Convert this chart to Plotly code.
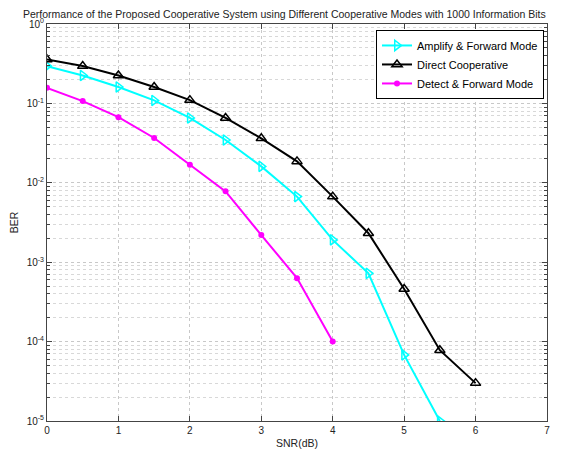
import plotly.graph_objects as go

snr_direct = [0, 0.5, 1, 1.5, 2, 2.5, 3, 3.5, 4, 4.5, 5, 5.5, 6]
ber_direct = [0.358, 0.295, 0.225, 0.161, 0.11, 0.0656, 0.0363, 0.0186, 0.0067, 0.00232, 4.6e-4, 7.8e-5, 3.0e-5]

snr_af = [0, 0.5, 1, 1.5, 2, 2.5, 3, 3.5, 4, 4.5, 5, 5.5]
ber_af = [0.295, 0.225, 0.161, 0.109, 0.0656, 0.0346, 0.0161, 0.0067, 0.00191, 7.24e-4, 6.8e-5, 1.0e-5]

snr_df = [0, 0.5, 1, 1.5, 2, 2.5, 3, 3.5, 4]
ber_df = [0.157, 0.107, 0.067, 0.0367, 0.0169, 0.0078, 0.0022, 6.3e-4, 1.0e-4]

x_ticks = [0, 1, 2, 3, 4, 5, 6, 7]
y_exps = [-5, -4, -3, -2, -1, 0]

FONT = "Liberation Sans, Arial, sans-serif"

fig = go.Figure()
fig.add_trace(go.Scatter(x=snr_af, y=ber_af, mode="lines+markers", name="Amplify & Forward Mode",
                         line=dict(color="#00FFFF", width=2),
                         marker=dict(symbol="triangle-right-open", size=9, color="#00FFFF", line=dict(width=1.5))))
fig.add_trace(go.Scatter(x=snr_direct, y=ber_direct, mode="lines+markers", name="Direct Cooperative",
                         line=dict(color="black", width=2),
                         marker=dict(symbol="triangle-up-open", size=9, color="black", line=dict(width=1.5))))
fig.add_trace(go.Scatter(x=snr_df, y=ber_df, mode="lines+markers", name="Detect & Forward Mode",
                         line=dict(color="#FF00FF", width=2),
                         marker=dict(symbol="circle", size=6, color="#FF00FF")))

minor_vals = [m * 10 ** e for e in y_exps[:-1] for m in range(2, 10)]

# page body has an 8px default margin, so the figure is 8px smaller than the window
fig.update_layout(
    width=564, height=442,
    margin=dict(l=39, r=25, t=16, b=29),
    paper_bgcolor="white", plot_bgcolor="white",
    font=dict(family=FONT, size=10, color="#222"),
    title=dict(text="Performance of the Proposed Cooperative System using Different Cooperative Modes with 1000 Information Bits",
               x=0.49, xanchor="center", y=0.993, yanchor="top", pad=dict(t=0),
               font=dict(size=10.5, family=FONT, color="#222")),
    showlegend=True,
    legend=dict(x=0.994, xanchor="right", y=0.985, yanchor="top", bgcolor="white",
                bordercolor="black", borderwidth=1, font=dict(size=11, family=FONT, color="black"),
                tracegroupgap=0, itemwidth=30),
    xaxis=dict(range=[0, 7], tickvals=x_ticks, ticktext=[str(v) for v in x_ticks], automargin=False,
               showgrid=True, gridcolor="#c8c8c8", griddash="dot", gridwidth=1,
               ticks="inside", ticklen=5, tickcolor="#444", mirror="ticks",
               showline=True, linecolor="#444", linewidth=1, zeroline=False,
               title=dict(text="SNR(dB)", standoff=4, font=dict(size=10.5, family=FONT, color="#222"))),
    yaxis=dict(type="log", range=[-5, 0], tickvals=[10 ** e for e in y_exps], automargin=False,
               ticktext=["10<sup>%d</sup>" % e for e in y_exps],
               showgrid=True, gridcolor="#c8c8c8", griddash="dot", gridwidth=1,
               ticks="inside", ticklen=5, tickcolor="#444", mirror="ticks",
               showline=True, linecolor="#444", linewidth=1, zeroline=False,
               minor=dict(tickvals=minor_vals, showgrid=True, gridcolor="#d8d8d8", griddash="dot",
                          ticks="inside", ticklen=3, tickcolor="#444"),
               title=dict(text="BER", standoff=6, font=dict(size=10.5, family=FONT, color="#222"))),
)

fig.write_html("out.html")
